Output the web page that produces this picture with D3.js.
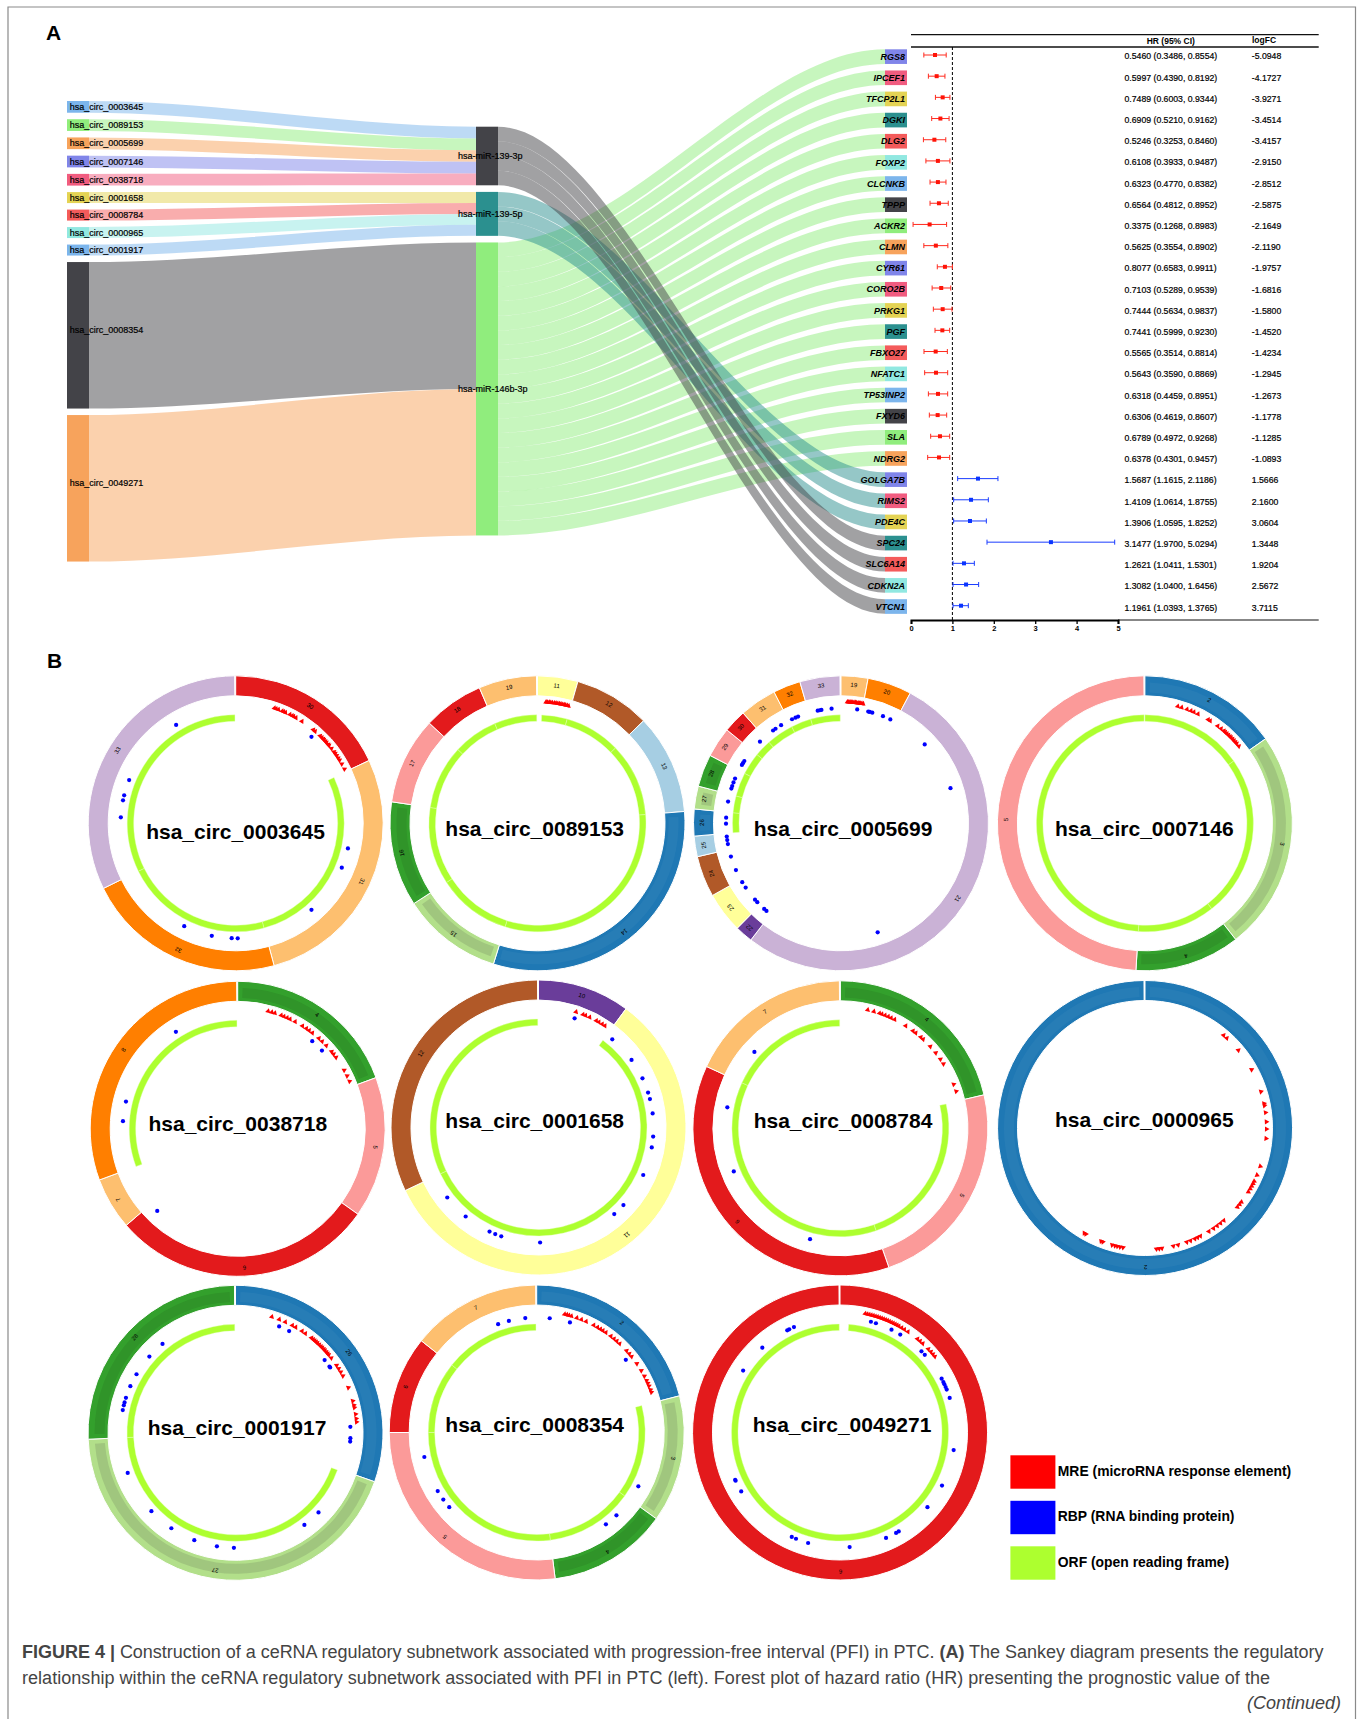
<!DOCTYPE html>
<html lang="en">
  <head>
    <meta charset="UTF-8" />
    <title>ceRNA regulatory subnetwork</title>
    <script src="https://cdn.jsdelivr.net/npm/d3@7"></script>
    <style>
      body { margin: 0; padding: 0; background: #fff; }
      svg { display: block; }
      text { font-family: "Liberation Sans", Arial, sans-serif; fill: #000; }
      .heavy { stroke: #000; stroke-width: 0.2; }
    </style>
  </head>
  <body>
    <script>
      // Sankey data
      const circNames = ['hsa_circ_0003645', 'hsa_circ_0089153', 'hsa_circ_0005699', 'hsa_circ_0007146', 'hsa_circ_0038718', 'hsa_circ_0001658', 'hsa_circ_0008784', 'hsa_circ_0000965', 'hsa_circ_0001917', 'hsa_circ_0008354', 'hsa_circ_0049271'];
      const circValues = [0.8, 0.8, 0.8, 0.8, 0.8, 0.75, 0.75, 0.75, 0.75, 10, 10];
      const circMirs = ['hsa-miR-139-3p', 'hsa-miR-139-3p', 'hsa-miR-139-3p', 'hsa-miR-139-3p', 'hsa-miR-139-3p', 'hsa-miR-139-5p', 'hsa-miR-139-5p', 'hsa-miR-139-5p', 'hsa-miR-139-5p', 'hsa-miR-146b-3p', 'hsa-miR-146b-3p'];
      const mirNames = ['hsa-miR-139-3p', 'hsa-miR-139-5p', 'hsa-miR-146b-3p'];
      const geneNames = ['RGS8', 'IPCEF1', 'TFCP2L1', 'DGKI', 'DLG2', 'FOXP2', 'CLCNKB', 'TPPP', 'ACKR2', 'CLMN', 'CYR61', 'CORO2B', 'PRKG1', 'PGF', 'FBXO27', 'NFATC1', 'TP53INP2', 'FXYD6', 'SLA', 'NDRG2', 'GOLGA7B', 'RIMS2', 'PDE4C', 'SPC24', 'SLC6A14', 'CDKN2A', 'VTCN1'];
      const geneMirCounts = { 'hsa-miR-146b-3p': 20, 'hsa-miR-139-5p': 3, 'hsa-miR-139-3p': 4 };
      const sankeyPalette = ['#7cb5ec', '#434348', '#90ed7d', '#f7a35c', '#8085e9', '#f15c80', '#e4d354', '#2b908f', '#f45b5b', '#91e8e1'];

      // Forest plot data: markers as drawn, table text as printed
      const hrPlot = [0.58, 0.62, 0.765, 0.71, 0.565, 0.65, 0.65, 0.675, 0.45, 0.6, 0.82, 0.73, 0.765, 0.757, 0.596, 0.604, 0.652, 0.644, 0.7, 0.676, 1.618, 1.45, 1.425, 3.38, 1.28, 1.33, 1.208];
      const loPlot = [0.31, 0.42, 0.59, 0.5, 0.3, 0.36, 0.46, 0.46, 0.05, 0.31, 0.635, 0.51, 0.54, 0.58, 0.314, 0.33, 0.42, 0.443, 0.475, 0.403, 1.127, 1.03, 1.03, 1.836, 1.015, 1.015, 1.015];
      const hiPlot = [0.85, 0.82, 0.94, 0.92, 0.84, 0.94, 0.845, 0.9, 0.86, 0.89, 1.0, 0.96, 0.99, 0.934, 0.878, 0.886, 0.886, 0.862, 0.934, 0.934, 2.1, 1.868, 1.82, 4.92, 1.53, 1.634, 1.385];
      const hrLabels = ['0.5460 (0.3486, 0.8554)', '0.5997 (0.4390, 0.8192)', '0.7489 (0.6003, 0.9344)', '0.6909 (0.5210, 0.9162)', '0.5246 (0.3253, 0.8460)', '0.6108 (0.3933, 0.9487)', '0.6323 (0.4770, 0.8382)', '0.6564 (0.4812, 0.8952)', '0.3375 (0.1268, 0.8983)', '0.5625 (0.3554, 0.8902)', '0.8077 (0.6583, 0.9911)', '0.7103 (0.5289, 0.9539)', '0.7444 (0.5634, 0.9837)', '0.7441 (0.5999, 0.9230)', '0.5565 (0.3514, 0.8814)', '0.5643 (0.3590, 0.8869)', '0.6318 (0.4459, 0.8951)', '0.6306 (0.4619, 0.8607)', '0.6789 (0.4972, 0.9268)', '0.6378 (0.4301, 0.9457)', '1.5687 (1.1615, 2.1186)', '1.4109 (1.0614, 1.8755)', '1.3906 (1.0595, 1.8252)', '3.1477 (1.9700, 5.0294)', '1.2621 (1.0411, 1.5301)', '1.3082 (1.0400, 1.6456)', '1.1961 (1.0393, 1.3765)'];
      const logFcLabels = ['-5.0948', '-4.1727', '-3.9271', '-3.4514', '-3.4157', '-2.9150', '-2.8512', '-2.5875', '-2.1649', '-2.1190', '-1.9757', '-1.6816', '-1.5800', '-1.4520', '-1.4234', '-1.2945', '-1.2673', '-1.1778', '-1.1285', '-1.0893', '1.5666', '2.1600', '3.0604', '1.3448', '1.9204', '2.5672', '3.7115'];

      // Circular plots: exon numbers and their arc spans in degrees, clockwise from 12 o'clock
      const panelNames = ['hsa_circ_0003645', 'hsa_circ_0089153', 'hsa_circ_0005699', 'hsa_circ_0007146', 'hsa_circ_0038718', 'hsa_circ_0001658', 'hsa_circ_0008784', 'hsa_circ_0000965', 'hsa_circ_0001917', 'hsa_circ_0008354', 'hsa_circ_0049271'];
      const panelExons = [
        [30, 31, 32, 33],
        [11, 12, 13, 14, 15, 16, 17, 18, 19],
        [19, 20, 21, 22, 23, 24, 25, 26, 27, 28, 29, 30, 31, 32, 33],
        [2, 3, 4, 5],
        [4, 5, 6, 7, 8],
        [10, 11, 12],
        [4, 5, 6, 7],
        [2],
        [26, 27, 28],
        [2, 3, 4, 5, 6, 7],
        [6]
      ];
      const panelSpans = [
        [64.8, 100.1, 78.9, 116.2],
        [15.9, 30.1, 39.4, 112, 39.6, 41.4, 34.4, 24, 23.2],
        [10.6, 17.4, 189.7, 7, 16, 16.2, 8.1, 10.6, 9, 12.8, 11.9, 9.1, 14.6, 10.8, 16.2],
        [55, 87, 41.5, 176.5],
        [69.7, 55.7, 103.7, 20.6, 110.3],
        [36.4, 208.3, 115.3],
        [76.9, 83.9, 134, 65.2],
        [360],
        [109.4, 158.1, 92.5],
        [75.6, 50.2, 47, 97.2, 38.5, 51.5],
        [360]
      ];
      const orfStarts = [65, 2.2, 265, 0, 249.7, 36.4, 77, null, 110, 75.6, 4.6];
      const mreAngles = [
        [18.6, 19.5, 20.6, 22.5, 23.3, 24.2, 26.5, 27.7, 28.5, 29.7, 33, 39.7, 40.8, 44, 45, 46, 46.6, 47.5, 48.3, 49.5, 50.2, 52, 54, 55, 56.2, 57.5, 58.7, 60.8, 63.5],
        [4, 4.7, 5.5, 6.2, 7, 8, 8.7, 9.5, 10.3, 11, 11.8, 12.5, 13.2, 14, 14.8],
        [3, 3.6, 4.2, 4.8, 5.5, 6.1, 6.7, 7.3, 8, 8.6, 9.2, 9.8, 10.5],
        [15.7, 17.6, 20.3, 22.3, 23.8, 25.9, 31.4, 32.5, 36.8, 38.8, 40.5, 41.3, 42.3, 43.3, 44.3, 45, 46, 47, 48, 49, 50.6],
        [14.5, 16.3, 17.8, 21, 22.4, 24, 25.5, 28.2, 32.2, 34.4, 36, 37.9, 41.9, 44, 46.8, 50.6, 52.1, 54, 61.2, 64.2, 67],
        [18, 21.5, 22.8, 24.9, 28.4, 29.8, 31.6, 33.1],
        [13, 16, 18.8, 20, 21.6, 23.2, 24.7, 26.5, 32.5, 36.7, 38.3, 41.4, 42.9, 47.7, 51.7, 55.4, 58, 68.8, 72.3],
        [40.3, 42.3, 50.2, 61.3, 72.6, 78.4, 79.4, 82.7, 87.1, 90.5, 95, 108.4, 112.8, 116, 117.2, 118.6, 120, 121.7, 127.5, 128.9, 130.5, 139.6, 141.6, 143.6, 145.7, 148.3, 152.9, 154.4, 155.8, 158, 159.9, 164.2, 166.5, 172, 173.3, 174.6, 190.4, 191.8, 193.1, 194.3, 195.7, 200.3, 201.2, 209.1, 210],
        [17.4, 21.1, 24.2, 27.9, 29.7, 33.2, 35.1, 38.7, 39.7, 40.6, 41.5, 42.4, 43.5, 44.6, 45.5, 46.5, 47.3, 48.3, 49.2, 50.1, 52, 56.3, 58.1, 60, 62.1, 68.2, 74.8, 76.9, 78, 81.2, 83.3, 84.9],
        [13.3, 14.4, 15.4, 16.6, 19.3, 21.6, 24, 28, 30, 31.6, 33, 34.7, 37.6, 39.5, 41.2, 43, 47.7, 49.6, 51.3, 55.5, 59.4, 62.4, 64.7, 66.1, 67.5, 69.4, 70.7],
        [12, 13, 14, 15, 16, 17, 18, 19, 20, 21, 22, 23, 24, 25, 26, 27, 28, 29, 30.5, 32, 34, 39.6, 41.2, 42.9, 46.6, 48.4, 49.9, 51.3]
      ];
      const rbpAngles = [
        [41.2, 102.6, 112.7, 138.8, 179, 182, 192, 206.6, 273, 281.5, 284.1, 292.1, 328.8],
        [],
        [8.1, 13.7, 14.5, 15.8, 21.4, 25.4, 46.7, 72.2, 161.4, 220.4, 221.9, 226.7, 228.4, 236, 239.2, 246, 253.2, 259.6, 261.6, 263.4, 269.8, 272.8, 280.9, 287.6, 288.9, 290.8, 292.9, 300.5, 301.5, 302.8, 315.2, 323.8, 325.3, 328.6, 334.8, 336.7, 338.1, 348.3, 349.4, 350.2, 355.3],
        [],
        [40.4, 47.1, 224.4, 273.8, 283.7, 327.5],
        [18.3, 39.9, 54, 64.7, 72.3, 75.7, 83, 94.5, 100, 114.4, 132.4, 138.8, 179.2, 198.9, 202.1, 205.2, 219.3, 232.5],
        [195.3, 248, 280.5, 311.6],
        [],
        [22.3, 27.8, 50.8, 54.8, 55.4, 87, 92.7, 94.4, 133.8, 143.2, 180.8, 189.3, 201, 213.9, 227, 249.6, 281.4, 283.8, 285.3, 287.7, 293.9, 300.6, 311.5, 320.6],
        [6.5, 16.8, 50.8, 117.9, 136.1, 143, 229.5, 234.3, 239.4, 257.7, 340.4, 346, 354.3],
        [15.6, 18.2, 26.6, 31.6, 45.1, 47.5, 62.1, 64, 65.2, 66.7, 68.1, 72.5, 98.8, 117.5, 130.5, 149.3, 150.8, 156.4, 175.2, 196.1, 202.5, 204.8, 239.2, 245.2, 245.7, 302.6, 317.5, 332.7, 333.8, 336.4]
      ];
      const legendLabels = ['MRE (microRNA response element)', 'RBP (RNA binding protein)', 'ORF (open reading frame)'];
      const legendColors = ['#ff0000', '#0000ff', '#adff2f'];

      const width = 1363;
      const height = 1719;
      const svg = d3.select('body').append('svg').attr('width', width).attr('height', height);

      // frame round the figure, open at the bottom
      svg.append('path')
        .attr('d', `M8,${height} V7 H1355.5 V${height}`)
        .attr('fill', 'none')
        .attr('stroke', '#8a8a8a')
        .attr('stroke-width', 1.2);

      svg.append('text').attr('x', 46).attr('y', 40).attr('font-size', 21).attr('font-weight', 700).text('A');
      svg.append('text').attr('x', 47).attr('y', 668).attr('font-size', 21).attr('font-weight', 700).text('B');

      // ---- Sankey ----
      const unit = d3.scaleLinear().domain([0, 1]).range([0, 14.65]);
      const colX = [67, 476, 885];
      const nodeW = 22;
      const curve = 0.33;

      const geneMirs = [];
      ['hsa-miR-146b-3p', 'hsa-miR-139-5p', 'hsa-miR-139-3p'].forEach((m) => {
        d3.range(geneMirCounts[m]).forEach(() => geneMirs.push(m));
      });

      const links = circNames
        .map((c, i) => ({ source: c, target: circMirs[i], value: circValues[i] }))
        .concat(geneNames.map((g, i) => ({ source: geneMirs[i], target: g, value: 1 })));

      // colours go by order of first appearance in the links, like the original chart
      const nodeColor = d3.scaleOrdinal(sankeyPalette);
      circNames.forEach((c, i) => {
        nodeColor(c);
        nodeColor(circMirs[i]);
      });
      geneNames.forEach((g) => nodeColor(g));

      function stackColumn(names, column, startY, pad) {
        let y = startY;
        return names.map((name) => {
          const inSum = d3.sum(links.filter((l) => l.target === name), (l) => l.value);
          const outSum = d3.sum(links.filter((l) => l.source === name), (l) => l.value);
          const h = unit(Math.max(inSum, outSum));
          const node = { name, column, x: colX[column], y, h, inY: y, outY: y };
          y += h + pad;
          return node;
        });
      }

      const leftNodes = stackColumn(circNames, 0, 101, 6.5);
      const midNodes = stackColumn(mirNames, 1, 126.7, 6.6);
      const rightNodes = stackColumn(geneNames, 2, 49.3, 6.5);
      const nodeByName = new Map(leftNodes.concat(midNodes, rightNodes).map((n) => [n.name, n]));

      function linkPath(l) {
        const s = nodeByName.get(l.source);
        const t = nodeByName.get(l.target);
        const h = unit(l.value);
        const x0 = s.x + nodeW;
        const x1 = t.x;
        const y0 = s.outY;
        const y1 = t.inY;
        s.outY += h;
        t.inY += h;
        const c = (x1 - x0) * curve;
        const p = d3.path();
        p.moveTo(x0, y0);
        p.bezierCurveTo(x0 + c, y0, x1 - c, y1, x1, y1);
        p.lineTo(x1, y1 + h);
        p.bezierCurveTo(x1 - c, y1 + h, x0 + c, y0 + h, x0, y0 + h);
        p.closePath();
        return p.toString();
      }

      const sankey = svg.append('g');
      sankey.selectAll('path.link')
        .data(links)
        .enter()
        .append('path')
        .attr('class', 'link')
        .attr('d', linkPath)
        .attr('fill', (d) => nodeColor(d.source))
        .attr('fill-opacity', 0.5);

      sankey.selectAll('rect.node')
        .data(Array.from(nodeByName.values()))
        .enter()
        .append('rect')
        .attr('class', 'node')
        .attr('x', (d) => d.x)
        .attr('y', (d) => d.y)
        .attr('width', nodeW)
        .attr('height', (d) => d.h)
        .attr('fill', (d) => nodeColor(d.name));

      sankey.selectAll('text.circ')
        .data(leftNodes)
        .enter()
        .append('text')
        .attr('class', 'circ heavy')
        .attr('x', 69.7)
        .attr('y', (d) => d.y + d.h / 2 - (d.h > 100 ? 5 : 0))
        .attr('dy', '0.35em')
        .attr('font-size', 9)
        .text((d) => d.name);

      sankey.selectAll('text.mir')
        .data(midNodes)
        .enter()
        .append('text')
        .attr('class', 'mir heavy')
        .attr('x', 458)
        .attr('y', (d) => d.y + d.h / 2)
        .attr('dy', '0.35em')
        .attr('font-size', 9)
        .text((d) => d.name);

      sankey.selectAll('text.gene')
        .data(rightNodes)
        .enter()
        .append('text')
        .attr('class', 'gene')
        .attr('x', 905)
        .attr('y', (d) => d.y + d.h / 2)
        .attr('dy', '0.35em')
        .attr('text-anchor', 'end')
        .attr('font-size', 9)
        .attr('font-weight', 700)
        .attr('font-style', 'italic')
        .text((d) => d.name);

      // ---- Forest plot ----
      const x = d3.scaleLinear().domain([0, 5]).range([911, 1118]);
      const y = d3.scalePoint().domain(geneNames).range([55, 605.7]);
      const tableY = d3.scalePoint().domain(geneNames).range([56.3, 607.5]);
      const redForest = '#ff2a1e';
      const blueForest = '#1a3cff';
      const forestColor = (i) => (hrPlot[i] < 1 ? redForest : blueForest);

      const forest = svg.append('g');
      forest.append('line').attr('x1', 911).attr('x2', 1318.7).attr('y1', 34.7).attr('y2', 34.7).attr('stroke', '#111').attr('stroke-width', 1.3);
      forest.append('line').attr('x1', 911).attr('x2', 1318.7).attr('y1', 47).attr('y2', 47).attr('stroke', '#111').attr('stroke-width', 1.3);
      forest.append('line').attr('x1', 1118).attr('x2', 1318.7).attr('y1', 620).attr('y2', 620).attr('stroke', '#111').attr('stroke-width', 1.2);
      forest.append('line')
        .attr('x1', x(1))
        .attr('x2', x(1))
        .attr('y1', 47)
        .attr('y2', 620)
        .attr('stroke', '#000')
        .attr('stroke-width', 1)
        .attr('stroke-dasharray', '3,2');

      const rows = forest.selectAll('g.row')
        .data(geneNames)
        .enter()
        .append('g')
        .attr('class', 'row');
      rows.append('line')
        .attr('x1', (d, i) => x(loPlot[i]))
        .attr('x2', (d, i) => x(hiPlot[i]))
        .attr('y1', (d) => y(d))
        .attr('y2', (d) => y(d))
        .attr('stroke', (d, i) => forestColor(i))
        .attr('stroke-width', 1);
      [loPlot, hiPlot].forEach((ends) => {
        rows.append('line')
          .attr('x1', (d, i) => x(ends[i]))
          .attr('x2', (d, i) => x(ends[i]))
          .attr('y1', (d) => y(d) - 2.5)
          .attr('y2', (d) => y(d) + 2.5)
          .attr('stroke', (d, i) => forestColor(i))
          .attr('stroke-width', 1);
      });
      rows.append('rect')
        .attr('x', (d, i) => x(hrPlot[i]) - 2)
        .attr('y', (d) => y(d) - 2)
        .attr('width', 4)
        .attr('height', 4)
        .attr('fill', (d, i) => (forestColor(i) === redForest ? '#ff1408' : '#0a34ff'));

      rows.append('text')
        .attr('class', 'heavy')
        .attr('x', 1124.5)
        .attr('y', (d) => tableY(d))
        .attr('dy', '0.35em')
        .attr('font-size', 8.7)
        .text((d, i) => hrLabels[i]);
      rows.append('text')
        .attr('class', 'heavy')
        .attr('x', 1251.8)
        .attr('y', (d) => tableY(d))
        .attr('dy', '0.35em')
        .attr('font-size', 8.7)
        .text((d, i) => logFcLabels[i]);

      forest.append('text').attr('x', 1146.7).attr('y', 40.7).attr('dy', '0.35em').attr('font-size', 8.5).attr('font-weight', 700).attr('fill', '#222').text('HR (95% CI)');
      forest.append('text').attr('x', 1252).attr('y', 40).attr('dy', '0.35em').attr('font-size', 8.5).attr('font-weight', 700).attr('fill', '#222').text('logFC');

      const axis = forest.append('g')
        .attr('transform', 'translate(0,620)')
        .call(d3.axisBottom(x).ticks(5).tickFormat(d3.format('d')).tickSize(4));
      axis.select('.domain').attr('stroke', '#000').attr('stroke-width', 2);
      axis.selectAll('.tick line').attr('stroke', '#000').attr('stroke-width', 1.3);
      axis.selectAll('.tick text').attr('y', 5.5).attr('font-size', 7.5).attr('font-weight', 700).attr('font-family', '"Liberation Sans", Arial, sans-serif');

      // ---- Circular plots ----
      const panelCentres = [
        [235.7, 823.3], [537.5, 823.3], [841, 823.3], [1144.9, 823.3],
        [237.7, 1128.8], [538.5, 1127.5], [840.4, 1128.3], [1145, 1128],
        [235.5, 1432.8], [536.7, 1432.5], [840, 1432.5]
      ];
      const titleCentres = [
        [235.5, 832], [534.7, 829], [843, 829], [1144.3, 828.7],
        [237.8, 1123.3], [534.7, 1120.7], [843, 1120.3], [1144.3, 1119.7],
        [237, 1427.3], [534.7, 1424.7], [842, 1424.3]
      ];
      const outerR = 147.5;
      const ringR = 127.5;
      const orfOuter = 108.5;
      const orfInner = 102;
      const mreR = 121.5;
      const rbpR = 115;
      const labelR = 139;

      const rad = d3.scaleLinear().domain([0, 360]).range([0, 2 * Math.PI]);
      const exonColor = d3.scaleOrdinal(d3.schemePaired).domain(d3.range(1, 13));
      const colorOfExon = (n) => exonColor(((n - 1) % 12) + 1);
      const bandStyle = { 2: ['#fff', 0.04], 3: ['#5c6650', 0.2], 4: ['#111', 0.08] };

      const arc = d3.arc();
      const triangle = d3.symbol().type(d3.symbolTriangle).size(12)();
      const dot = d3.symbol().type(d3.symbolCircle).size(14)();
      const polar = (r, deg) => [r * Math.sin(rad(deg)), -r * Math.cos(rad(deg))];

      panelNames.forEach((name, p) => {
        const g = svg.append('g').attr('transform', `translate(${panelCentres[p]})`);
        let acc = 0;
        const segs = panelExons[p].map((exon, i) => {
          const seg = { exon, a0: acc, a1: Math.min(acc + panelSpans[p][i], 359.6) };
          acc += panelSpans[p][i];
          return seg;
        });

        g.selectAll('path.exon')
          .data(segs)
          .enter()
          .append('path')
          .attr('class', 'exon')
          .attr('d', (d) => arc({ innerRadius: ringR, outerRadius: outerR, startAngle: rad(d.a0), endAngle: rad(d.a1) }))
          .attr('fill', (d) => colorOfExon(d.exon))
          .attr('stroke', '#fff')
          .attr('stroke-width', 1);

        // darker inner band on the blue and green exons
        g.selectAll('path.band')
          .data(segs.filter((s) => bandStyle[((s.exon - 1) % 12) + 1]))
          .enter()
          .append('path')
          .attr('class', 'band')
          .attr('d', (d) => arc({ innerRadius: 131, outerRadius: 141, startAngle: rad(d.a0 + 2), endAngle: rad(d.a1 - 2) }))
          .attr('fill', (d) => bandStyle[((d.exon - 1) % 12) + 1][0])
          .attr('fill-opacity', (d) => bandStyle[((d.exon - 1) % 12) + 1][1]);

        g.selectAll('text.exon-label')
          .data(segs)
          .enter()
          .append('text')
          .attr('class', 'exon-label')
          .attr('transform', (d) => {
            const mid = (d.a0 + d.a1) / 2;
            return `translate(${polar(labelR, mid)}) rotate(${mid})`;
          })
          .attr('text-anchor', 'middle')
          .attr('dy', '0.35em')
          .attr('font-size', 6)
          .text((d) => d.exon);

        if (orfStarts[p] !== null) {
          g.selectAll('path.orf')
            .data(segs.filter((s) => s.a1 > orfStarts[p]))
            .enter()
            .append('path')
            .attr('class', 'orf')
            .attr('d', (d) => arc({ innerRadius: orfInner, outerRadius: orfOuter, startAngle: rad(Math.max(d.a0, orfStarts[p])), endAngle: rad(d.a1) }))
            .attr('fill', '#adff2f')
            .attr('stroke', '#e8ffc4')
            .attr('stroke-width', 0.4);
        }

        g.selectAll('path.mre')
          .data(mreAngles[p])
          .enter()
          .append('path')
          .attr('class', 'mre')
          .attr('d', triangle)
          .attr('transform', (d) => `translate(${polar(mreR, d)}) rotate(${d})`)
          .attr('fill', '#ff0000');

        g.selectAll('path.rbp')
          .data(rbpAngles[p])
          .enter()
          .append('path')
          .attr('class', 'rbp')
          .attr('d', dot)
          .attr('transform', (d) => `translate(${polar(rbpR, d)})`)
          .attr('fill', '#0000ff');

        svg.append('text')
          .attr('x', titleCentres[p][0])
          .attr('y', titleCentres[p][1])
          .attr('dy', '0.35em')
          .attr('text-anchor', 'middle')
          .attr('font-size', 21)
          .attr('font-weight', 700)
          .text(name);
      });

      // ---- Legend ----
      const legendY = d3.scalePoint().domain(legendLabels).range([1455.3, 1546.3]);
      svg.selectAll('rect.legend')
        .data(legendLabels)
        .enter()
        .append('rect')
        .attr('class', 'legend')
        .attr('x', 1010.4)
        .attr('y', (d) => legendY(d))
        .attr('width', 45)
        .attr('height', 33.4)
        .attr('fill', (d, i) => legendColors[i]);
      svg.selectAll('text.legend')
        .data(legendLabels)
        .enter()
        .append('text')
        .attr('class', 'legend')
        .attr('x', 1057.8)
        .attr('y', (d, i) => legendY(d) + (i === 1 ? 15 : 16))
        .attr('dy', '0.35em')
        .attr('font-size', 13.9)
        .attr('font-weight', 700)
        .text((d) => d);

      // ---- Caption ----
      const captionFill = '#444';
      const line1 = svg.append('text').attr('x', 22).attr('y', 1658).attr('font-size', 18).attr('textLength', 1301.5).style('fill', captionFill);
      line1.append('tspan').attr('font-weight', 700).text('FIGURE 4 |');
      line1.append('tspan').text(' Construction of a ceRNA regulatory subnetwork associated with progression-free interval (PFI) in PTC. ');
      line1.append('tspan').attr('font-weight', 700).text('(A)');
      line1.append('tspan').text(' The Sankey diagram presents the regulatory');
      svg.append('text').attr('x', 22).attr('y', 1684).attr('font-size', 18).attr('textLength', 1248).style('fill', captionFill)
        .text('relationship within the ceRNA regulatory subnetwork associated with PFI in PTC (left). Forest plot of hazard ratio (HR) presenting the prognostic value of the');
      svg.append('text').attr('x', 1341).attr('y', 1709).attr('font-size', 18).attr('font-style', 'italic').attr('text-anchor', 'end').style('fill', captionFill).text('(Continued)');
    </script>
  </body>
</html>
